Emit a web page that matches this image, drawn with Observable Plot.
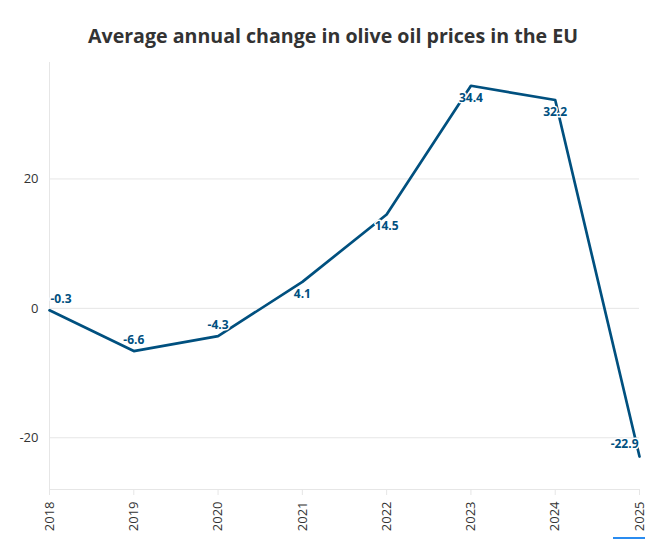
<!DOCTYPE html>
<html>
<head>
<meta charset="utf-8">
<script src="https://cdn.jsdelivr.net/npm/d3@7"></script>
<script src="https://cdn.jsdelivr.net/npm/@observablehq/plot@0.6"></script>
<style>
  html, body { margin: 0; padding: 0; background: #fff; }
  body { width: 660px; height: 541px; position: relative; overflow: hidden; font-family: "Open Sans", sans-serif; }
  #title { height: 56px; box-sizing: border-box; padding-top: 22px; text-align: center; font-size: 19.6px; font-weight: 700; color: #333; line-height: 28px; padding-left: 6px; }
  #chart svg { display: block; }
  #mark { position: absolute; left: 613px; top: 537px; width: 32px; height: 2px; background: #2a8cf0; }
</style>
</head>
<body>
<div id="title">Average annual change in olive oil prices in the EU</div>
<div id="chart"></div>
<div id="mark"></div>
<script>
const years = [2018, 2019, 2020, 2021, 2022, 2023, 2024, 2025];
const changes = [-0.3, -6.6, -4.3, 4.1, 14.5, 34.4, 32.2, -22.9];
const yTicks = [-20, 0, 20];

const data = years.map((year, i) => ({ year, value: changes[i], i }));
const n = data.length;
const lineColor = "#00507f";
const gridColor = "#e6e6e6";

const labelStyle = {
  x: "year", y: "value",
  text: d => d.value.toFixed(1),
  fill: lineColor, fontWeight: 700, fontSize: 12,
  stroke: "white", strokeWidth: 3, paintOrder: "stroke"
};

const chart = Plot.plot({
  width: 660,
  height: 485,
  marginTop: 6,
  marginBottom: 52,
  marginLeft: 49,
  marginRight: 21,
  style: { fontFamily: "Open Sans, sans-serif", fontSize: "13px", color: "#333", background: "#fff" },
  x: { domain: [2018, 2025] },
  y: { domain: [-28, 38] },
  marks: [
    Plot.gridY(yTicks, { stroke: gridColor, strokeOpacity: 1 }),
    Plot.ruleX([2018], { stroke: gridColor, strokeOpacity: 1 }),
    Plot.ruleY([-28], { stroke: gridColor, strokeOpacity: 1 }),
    Plot.axisX(years, {
      tickSize: 6, tickPadding: 6, tickRotate: -90,
      tickFormat: d => String(d),
      stroke: gridColor, fill: "#333", fontSize: 13, label: null
    }),
    Plot.axisY(yTicks, { tickSize: 0, tickPadding: 11, tickFormat: d => String(d), fill: "#333", fontSize: 13, label: null }),
    Plot.line(data, { x: "year", y: "value", stroke: lineColor, strokeWidth: 2.7 }),
    Plot.text(data.filter(d => d.i === 0), { ...labelStyle, textAnchor: "start", dx: 1, dy: -11 }),
    Plot.text(data.filter(d => d.i === n - 1), { ...labelStyle, textAnchor: "end", dx: -1, dy: -12 }),
    Plot.text(data.filter(d => d.i > 0 && d.i < n - 1 && d.value < 0), { ...labelStyle, textAnchor: "middle", dy: -11 }),
    Plot.text(data.filter(d => d.i > 0 && d.i < n - 1 && d.value >= 0), { ...labelStyle, textAnchor: "middle", dy: 12 })
  ]
});
document.getElementById("chart").appendChild(chart);
</script>
</body>
</html>
